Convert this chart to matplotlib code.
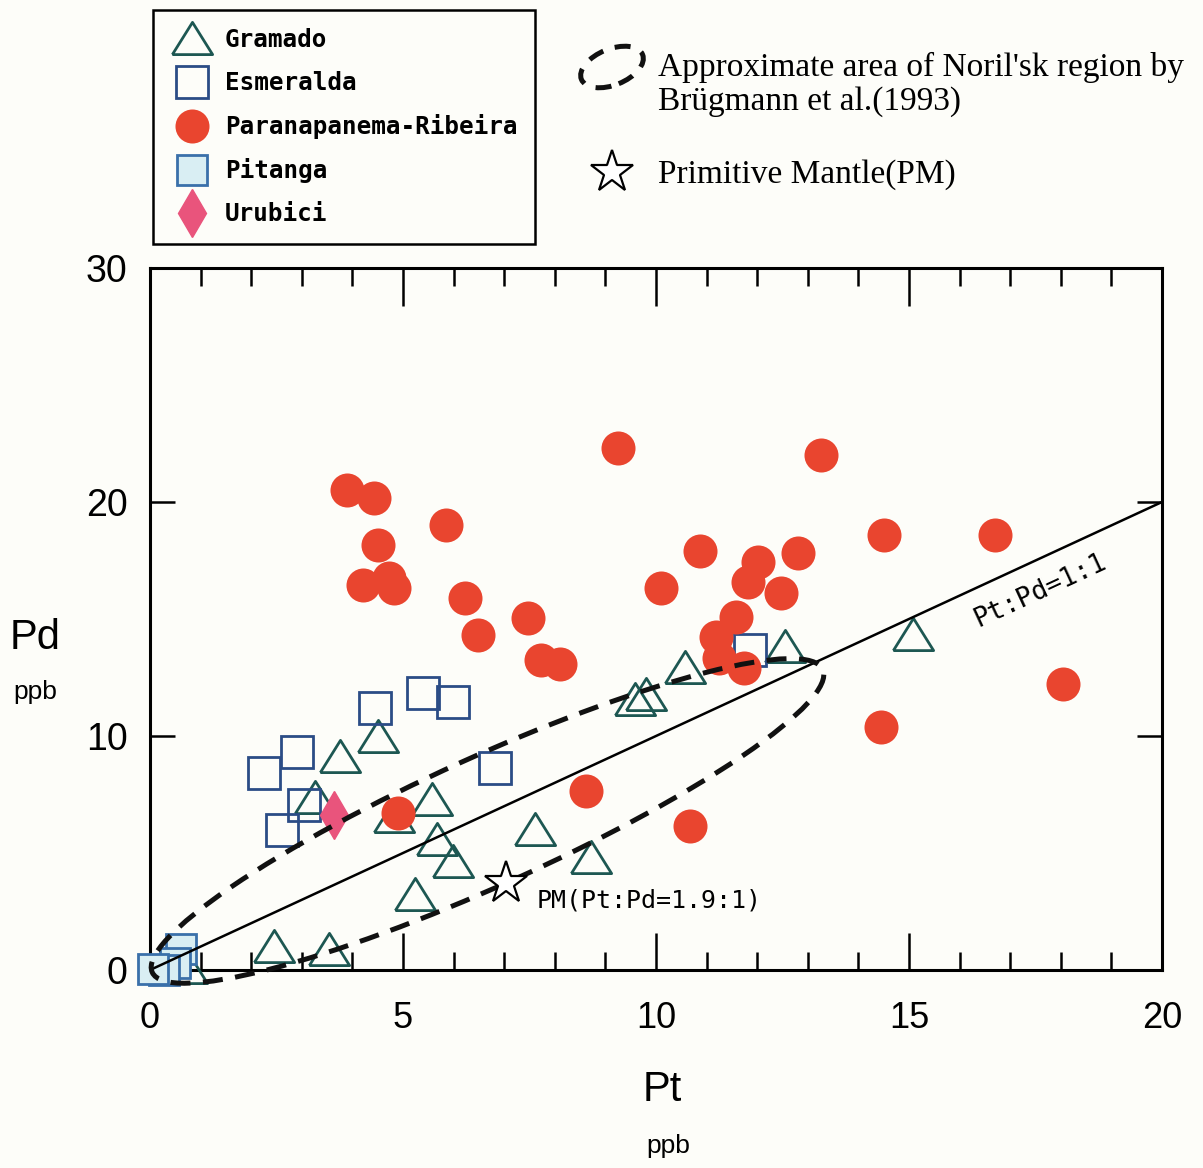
import matplotlib
matplotlib.use('Agg')
import matplotlib.pyplot as plt
import matplotlib.patches as mpatches
from matplotlib.lines import Line2D
from matplotlib.transforms import Affine2D

plt.rcParams['font.family'] = ['Liberation Sans', 'DejaVu Sans']

# Pt (x) and Pd (y) in ppb
gramado_pt = [2.46, 3.54, 3.76, 4.50, 3.27, 4.83, 5.58, 5.68, 5.98, 5.23,
              7.60, 8.71, 9.58, 9.80, 10.57, 12.55, 15.07, 0.73]
gramado_pd = [0.98, 0.85, 9.10, 9.96, 7.35, 6.54, 7.26, 5.56, 4.62, 3.21,
              5.98, 4.79, 11.54, 11.75, 12.91, 13.80, 14.32, 0.10]

esmeralda_pt = [4.44, 5.39, 5.98, 2.91, 2.26, 3.05, 2.61, 6.81, 11.86]
esmeralda_pd = [11.20, 11.84, 11.45, 9.32, 8.42, 7.05, 5.98, 8.63, 13.68]

parana_pt = [9.25, 13.27, 3.90, 4.42, 5.84, 4.50, 4.20, 4.73, 4.83, 6.22,
             6.48, 7.47, 7.72, 8.10, 10.10, 10.87, 12.02, 11.82, 11.58, 12.81,
             12.48, 11.19, 11.25, 11.74, 14.50, 16.69, 18.04, 14.44, 10.67, 8.61,
             4.91]
parana_pd = [22.31, 22.01, 20.51, 20.17, 19.02, 18.16, 16.45, 16.75, 16.32, 15.90,
             14.32, 15.04, 13.25, 13.08, 16.32, 17.91, 17.44, 16.58, 15.09, 17.82,
             16.11, 14.23, 13.33, 12.91, 18.59, 18.59, 12.22, 10.38, 6.15, 7.65,
             6.71]

pitanga_pt = [0.61, 0.50, 0.28, 0.05]
pitanga_pd = [0.90, 0.30, 0.0, 0.05]

urubici_pt = [3.64]
urubici_pd = [6.62]

pm_pt, pm_pd = 7.03, 3.72

# Noril'sk field (Brugmann et al. 1993): centre, semi-axes, tilt
noril_center = (6.67, 6.37)
noril_semi_major = 7.27
noril_semi_minor = 1.27
noril_angle = 24.3

RED = '#e9452f'
TEAL = '#1d5752'
NAVY = '#2b4c86'
BG = '#fdfdf9'
MONO = 'DejaVu Sans Mono'

# squat open triangle like the original symbol
tri = [(-1, -0.75), (1, -0.75), (0, 0.85), (-1, -0.75)]

fig = plt.figure(figsize=(12.03, 11.68), dpi=100, facecolor=BG)
ax = fig.add_axes([150 / 1203, 1 - 970 / 1168, 1012 / 1203, 702 / 1168], facecolor=BG)

h_gr, = ax.plot(gramado_pt, gramado_pd, ls='none', marker=tri, ms=29, mfc='none',
                mec=TEAL, mew=2.0, clip_on=False, label='Gramado', zorder=3)
h_es, = ax.plot(esmeralda_pt, esmeralda_pd, ls='none', marker='s', ms=23, mfc='none',
                mec=NAVY, mew=2.0, clip_on=False, label='Esmeralda', zorder=3)
h_pi, = ax.plot(pitanga_pt, pitanga_pd, ls='none', marker='s', ms=22, mfc='#d9eef3',
                mec='#3a70aa', mew=2.0, clip_on=False, label='Pitanga', zorder=3)
h_ur, = ax.plot(urubici_pt, urubici_pd, ls='none', marker='d', ms=24, mfc='#e9547c',
                mec='#e9547c', mew=1, clip_on=False, label='Urubici', zorder=4)
h_pa, = ax.plot(parana_pt, parana_pd, ls='none', marker='o', ms=24.5, mfc=RED,
                mec=RED, mew=0, clip_on=False, label='Paranapanema-Ribeira', zorder=4)

# Pt:Pd = 1:1
ax.plot([0, 20], [0, 20], color='black', lw=1.8, zorder=5)
ax.text(17.6, 16.2, 'Pt:Pd=1:1', rotation=45, transform_rotates_text=True,
        rotation_mode='anchor', ha='center', va='center',
        family=MONO, size=19, zorder=6)

# ellipse drawn in a frame where x and y have equal pixel scale
pos = ax.get_position()
k = (pos.height * 1168 / 30) / (pos.width * 1203 / 20)
ell_trans = Affine2D().scale(1, 1 / k) + ax.transData
ell = mpatches.Ellipse((noril_center[0], noril_center[1] * k),
                       2 * noril_semi_major, 2 * noril_semi_minor,
                       angle=noril_angle, fill=False, ec='#111111', lw=3.6,
                       ls=(0, (4.0, 2.5)), transform=ell_trans, zorder=6,
                       clip_on=False)
ax.add_patch(ell)

ax.plot([pm_pt], [pm_pd], ls='none', marker='*', ms=32, mfc='white', mec='black',
        mew=1.6, zorder=7)
ax.text(7.65, 2.95, 'PM(Pt:Pd=1.9:1)', family=MONO, size=18,
        ha='left', va='center', zorder=7)

ax.set_xlim(0, 20)
ax.set_ylim(0, 30)
ax.set_xticks([0, 5, 10, 15, 20])
ax.set_xticks(range(21), minor=True)
ax.set_yticks([0, 10, 20, 30])
ax.tick_params(axis='x', which='major', direction='in', length=27, width=1.8,
               top=True, bottom=True, labelsize=26, pad=22)
ax.tick_params(axis='x', which='minor', direction='in', length=13, width=1.8,
               top=True, bottom=True)
ax.tick_params(axis='y', which='major', direction='in', length=18, width=1.8,
               left=True, right=True, labelsize=27, pad=16)
for sp in ax.spines.values():
    sp.set_linewidth(2.2)

# axis titles
fig.text(35 / 1203, 1 - 638 / 1168, 'Pd', ha='center', va='center', size=30)
fig.text(35 / 1203, 1 - 692 / 1168, 'ppb', ha='center', va='center', size=19)
fig.text(662 / 1203, 1 - 1090 / 1168, 'Pt', ha='center', va='center', size=30)
fig.text(668 / 1203, 1 - 1146 / 1168, 'ppb', ha='center', va='center', size=19)

# legend box
leg = ax.legend([h_gr, h_es, h_pa, h_pi, h_ur],
                ['Gramado', 'Esmeralda', 'Paranapanema-Ribeira', 'Pitanga', 'Urubici'],
                loc='upper left', bbox_to_anchor=(153 / 1203, 1 - 10 / 1168),
                bbox_transform=fig.transFigure, borderaxespad=0,
                prop={'family': MONO, 'size': 17.5, 'weight': 'bold'},
                frameon=True, fancybox=False, framealpha=1, edgecolor='black',
                facecolor=BG, borderpad=0.75, handlelength=1.7, handletextpad=0.5,
                labelspacing=0.78)
leg.get_frame().set_linewidth(1.8)

# second key, no frame
fig.add_artist(mpatches.Ellipse((6.12, 11.01), 0.66, 0.36, angle=22, fill=False,
                                ec='#111111', lw=3.6, ls=(0, (3.2, 2.4)),
                                transform=fig.dpi_scale_trans))
fig.text(658 / 1203, 1 - 67 / 1168, "Approximate area of Noril'sk region by",
         ha='left', va='center', family='Liberation Serif', size=24)
fig.text(658 / 1203, 1 - 102 / 1168, 'Brügmann et al.(1993)',
         ha='left', va='center', family='Liberation Serif', size=24)
fig.add_artist(Line2D([612 / 1203], [1 - 172 / 1168], marker='*', ms=32, mfc='white',
                      mec='black', mew=1.6, transform=fig.transFigure))
fig.text(658 / 1203, 1 - 175 / 1168, 'Primitive Mantle(PM)',
         ha='left', va='center', family='Liberation Serif', size=24)

fig.savefig('out.png', dpi=100, facecolor=BG)
